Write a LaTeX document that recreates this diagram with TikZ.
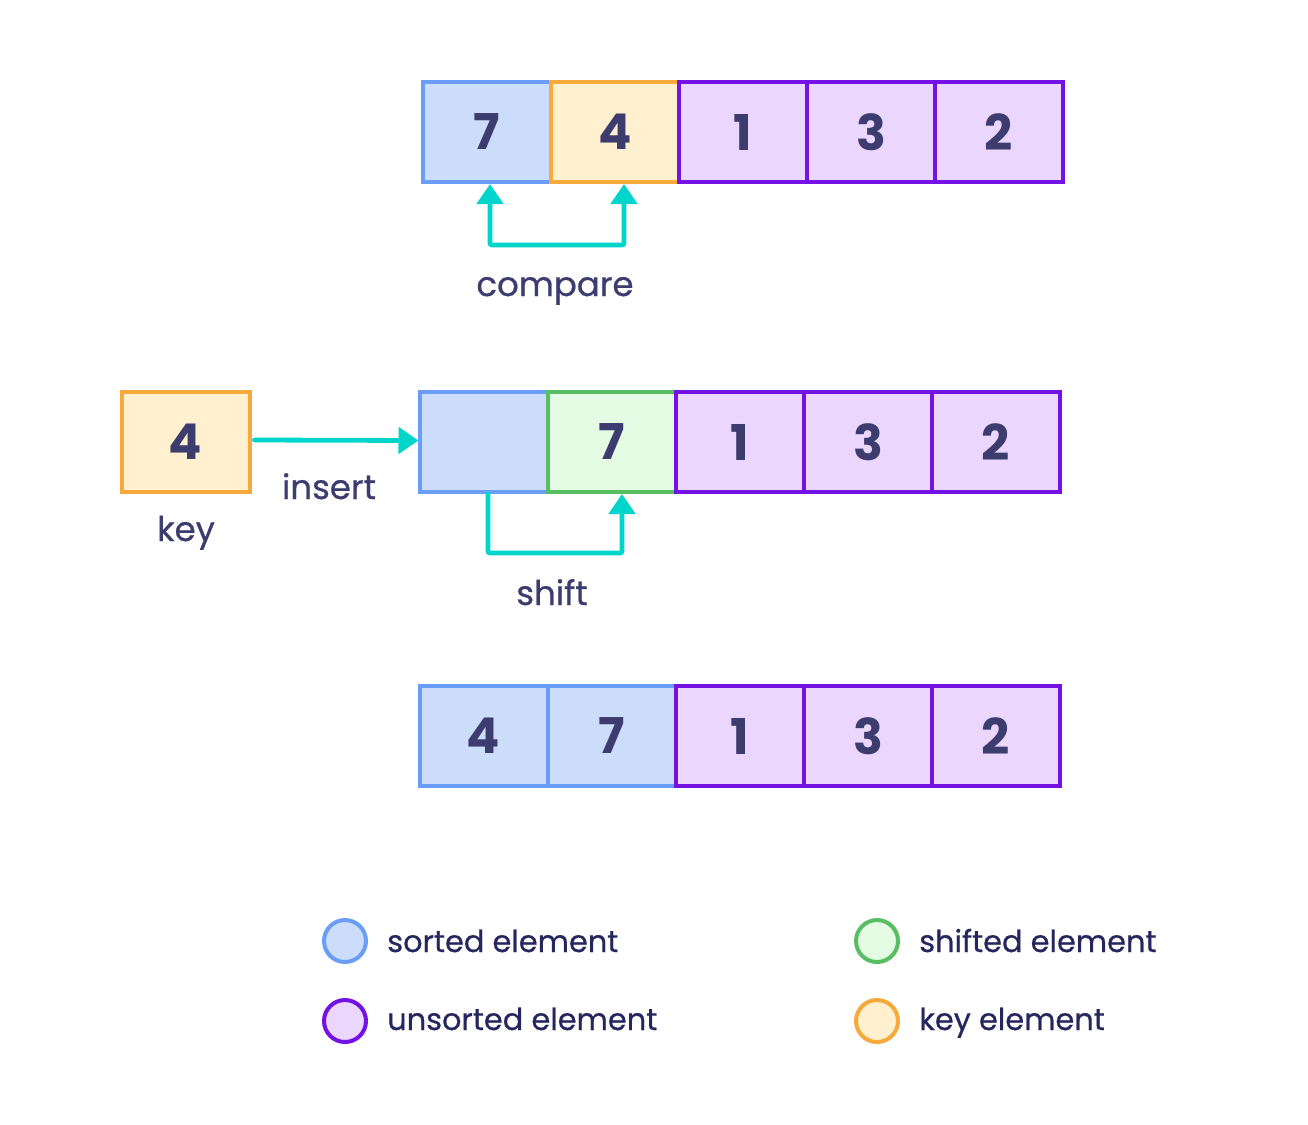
\documentclass[tikz,border=0pt]{standalone}
\usepackage{fontspec}
\setmainfont{Poppins}
\newfontfamily\lblfont[FakeBold=0.7]{Poppins}
\usetikzlibrary{arrows.meta,calc}
\definecolor{txt}{HTML}{3D3C6E}
\definecolor{legtxt}{HTML}{25265E}
\definecolor{sortB}{HTML}{6A9DF5}
\definecolor{sortF}{HTML}{CCDDFC}
\definecolor{keyB}{HTML}{F7A93B}
\definecolor{keyF}{HTML}{FFF1CF}
\definecolor{unsB}{HTML}{7411E5}
\definecolor{unsF}{HTML}{EBD6FE}
\definecolor{shB}{HTML}{58BE62}
\definecolor{shF}{HTML}{E4FCE4}
\definecolor{arr}{HTML}{00D5CC}
\begin{document}
\begin{tikzpicture}[x=0.75pt,y=-0.75pt,
  cell/.style={draw, line width=3pt, minimum width=96pt, minimum height=75pt,
    inner sep=0pt, outer sep=0pt, text=txt, font=\fontsize{37}{40}\selectfont\bfseries},
  sorted/.style={cell, draw=sortB, fill=sortF},
  keyc/.style={cell, draw=keyB, fill=keyF},
  uns/.style={cell, draw=unsB, fill=unsF},
  shf/.style={cell, draw=shB, fill=shF},
  lbl/.style={anchor=base, text=txt, inner sep=0pt, font=\lblfont\fontsize{25.5}{29}\selectfont},
  legtext/.style={anchor=base west, text=legtxt, inner sep=0pt, font=\lblfont\fontsize{22.8}{27}\selectfont},
  legdot/.style={circle, line width=3pt, minimum size=31.5pt, inner sep=0pt},
  arrowline/.style={draw=arr, line width=3.6pt, rounded corners=1.5pt}
]
\useasboundingbox (0,0) rectangle (1308,1124);

% row 1
\node[sorted] (a1) at (487,132) {7};
\node[keyc]   (a2) at (615,132) {4};
\node[uns]    (a3) at (743,132) {1};
\node[uns]    (a4) at (871,132) {3};
\node[uns]    (a5) at (999,132) {2};

\draw[arrowline, {Triangle[width=19.5pt, length=15pt]}-{Triangle[width=19.5pt, length=15pt]}]
  ($(a1.south)+(3,2)$) -- ($(a1.south)+(3,63)$) -- ($(a2.south)+(9,63)$) -- ($(a2.south)+(9,2)$);
\node[lbl] (cmp) at (555,296) {compare};

% row 2
\node[keyc] (key) at (185.5,441.5) {4};
\node[sorted] (b1) at (483.5,442) {};
\node[shf]    (b2) at (612,442) {7};
\node[uns]    (b3) at (740,442) {1};
\node[uns]    (b4) at (868,442) {3};
\node[uns]    (b5) at (996,442) {2};

\draw[arrowline, line cap=round, -{Triangle[width=19.5pt, length=15pt]}]
  ($(key.east)+(5,-1.5)$) -- ($(b1.west)+(-1,-1.5)$);
\node[lbl] (ins) at (329,499) {insert};
\node[lbl] (keyl) at (186,541) {key};

\draw[arrowline, -{Triangle[width=19.5pt, length=15pt]}]
  ($(b1.south)+(4.5,0)$) -- ($(b1.south)+(4.5,61)$) -- ($(b2.south)+(10,61)$) -- ($(b2.south)+(10,2)$);
\node[lbl] (sh) at (552,605) {shift};

% row 3
\node[sorted] (c1) at (483.5,736) {4};
\node[sorted] (c2) at (612,736) {7};
\node[uns]    (c3) at (740,736) {1};
\node[uns]    (c4) at (868,736) {3};
\node[uns]    (c5) at (996,736) {2};

% legend
\node[legdot, draw=sortB, fill=sortF] (l1) at (345,941) {};
\node[legtext] (t1) at (387,952) {sorted element};
\node[legdot, draw=unsB, fill=unsF] (l2) at (345,1021) {};
\node[legtext] (t2) at (387,1030) {unsorted element};
\node[legdot, draw=shB, fill=shF] (l3) at (877,941) {};
\node[legtext] (t3) at (919,952) {shifted element};
\node[legdot, draw=keyB, fill=keyF] (l4) at (877,1021) {};
\node[legtext] (t4) at (919,1030) {key element};
\end{tikzpicture}
\end{document}
